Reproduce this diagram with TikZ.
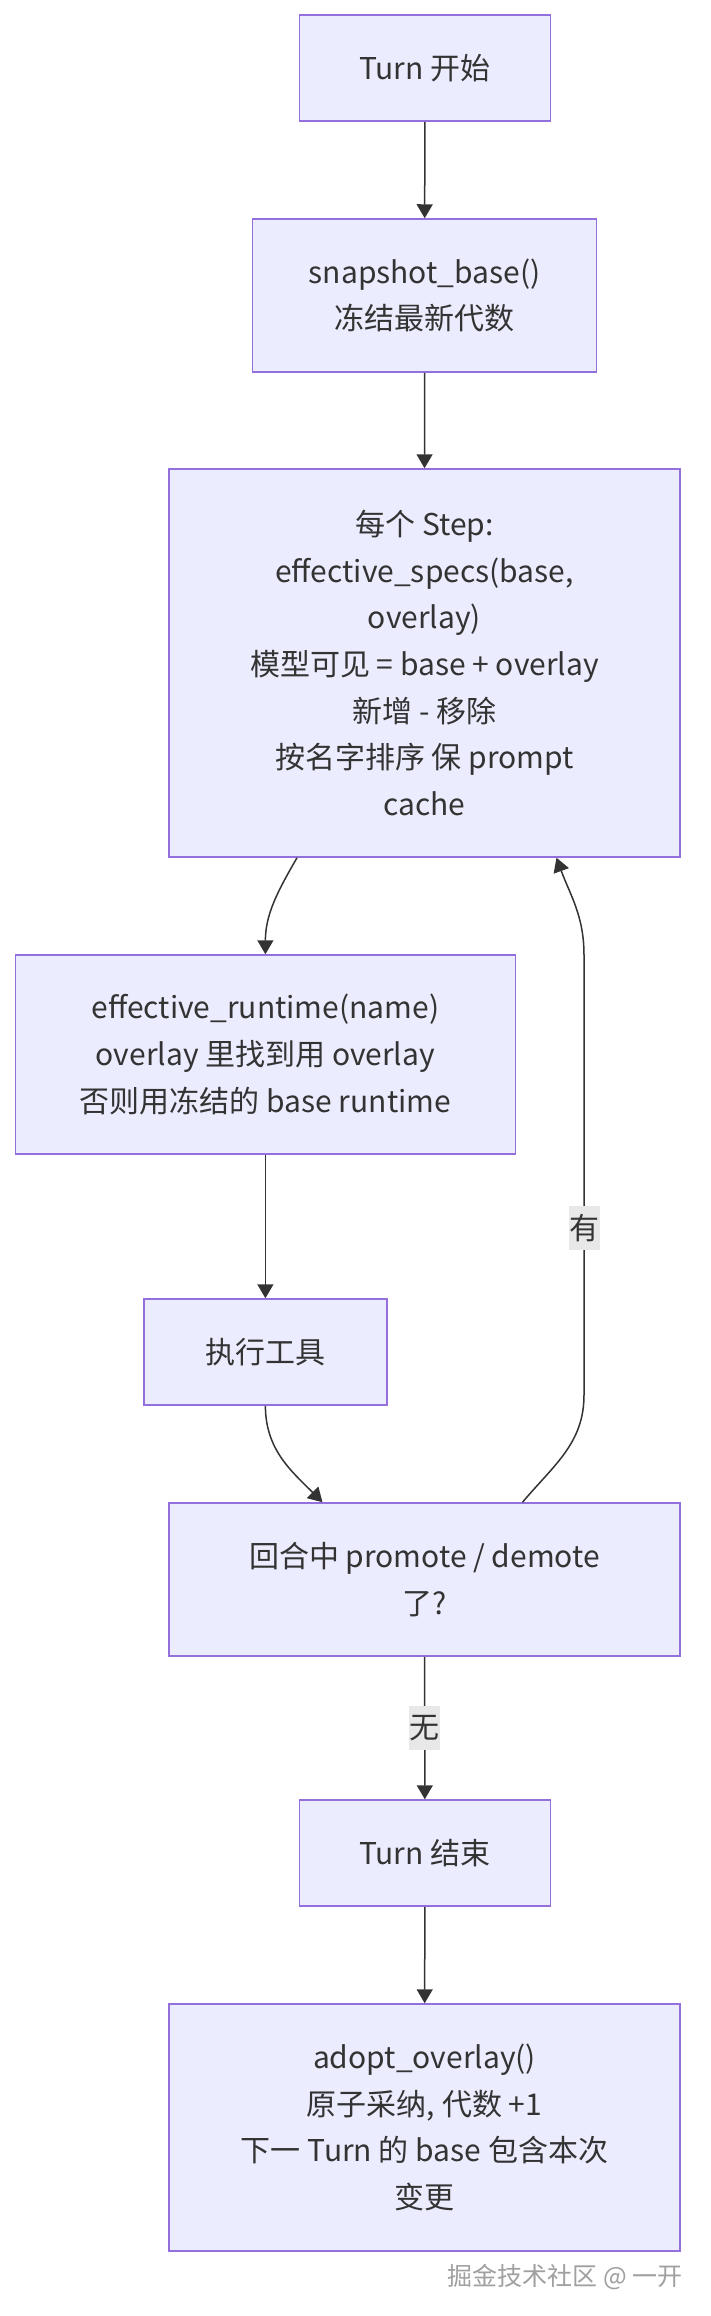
\documentclass[tikz,border=0pt]{standalone}
\usepackage{fontspec}
\setmainfont{Noto Sans CJK SC}
\usetikzlibrary{arrows.meta}
\definecolor{boxfill}{HTML}{ECECFF}
\definecolor{boxline}{HTML}{9370DB}
\definecolor{ink}{HTML}{333333}
\definecolor{lblfill}{HTML}{E8E8E8}
\definecolor{markgray}{HTML}{A0A0A0}
\begin{document}
\begin{tikzpicture}[x=1pt,y=-1pt,
  box/.style={draw=boxline,fill=boxfill,line width=1.5pt,text=ink,align=center,inner sep=0pt,font=\fontsize{30}{46.6}\selectfont},
  arr/.style={draw=ink,line width=1.5pt,-{Triangle[length=14pt,width=16pt]}},
  lbl/.style={fill=lblfill,text=ink,inner sep=0pt,minimum width=31pt,minimum height=44pt,font=\fontsize{30}{36}\selectfont}]
\path[fill=white,use as bounding box] (0,0) rectangle (710,2316);

\node[box,minimum width=251pt,minimum height=106pt] (start) at (424.9,68) {Turn 开始};
\node[box,minimum width=344pt,minimum height=153pt] (snap) at (424.6,295.5) {snapshot\_base()\\冻结最新代数};
\node[box,minimum width=511pt,minimum height=388pt] (step) at (424.5,663) {每个 Step:\\effective\_specs(base,\\overlay)\\模型可见 = base + overlay\\新增 - 移除\\按名字排序 保 prompt\\cache};
\node[box,minimum width=500pt,minimum height=199pt] (rt) at (265.4,1054.5) {effective\_runtime(name)\\overlay 里找到用 overlay\\否则用冻结的 base runtime};
\node[box,minimum width=243pt,minimum height=106pt] (exec) at (265.4,1352) {执行工具};
\node[box,minimum width=511pt,minimum height=153pt] (chk) at (424.5,1579.5) {回合中 promote / demote\\了?};
\node[box,minimum width=251pt,minimum height=106pt] (end) at (424.9,1853) {Turn 结束};
\node[box,minimum width=511pt,minimum height=247pt] (adopt) at (424.5,2127.5) {adopt\_overlay()\\原子采纳, 代数 +1\\下一 Turn 的 base 包含本次\\变更};
\node[anchor=east,text=markgray,font=\fontsize{25}{30}\selectfont] (mark) at (686,2277) {掘金技术社区 @ 一开};

\draw[arr] (start) -- (snap);
\draw[arr] (snap) -- (step);
\draw[arr] ([xshift=-127.5pt]step.south) to[out=-120,in=90] (rt.north);
\draw[arr] (rt) -- (exec);
\draw[arr] (exec.south) to[out=-90,in=135] ([xshift=-102pt]chk.north);
\draw[arr] ([xshift=98pt]chk.north) to[out=50,in=-90] (584,1395) -- node[lbl,pos=0.38]{有} (584,955) to[out=90,in=-70] ([xshift=132pt]step.south);
\draw[arr] (chk) -- node[lbl]{无} (end);
\draw[arr] (end) -- (adopt);
\end{tikzpicture}
\end{document}
